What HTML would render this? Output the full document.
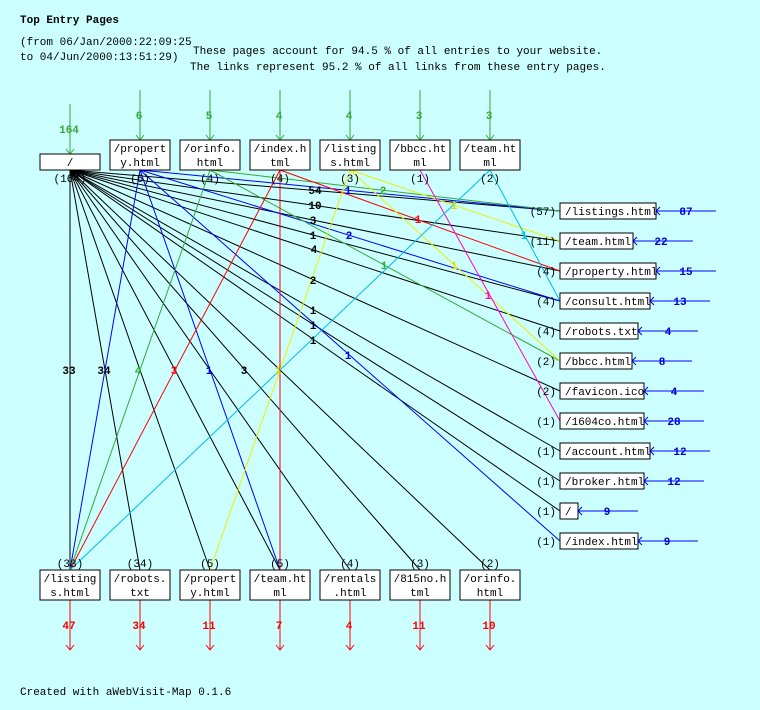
<!DOCTYPE html>
<html><head><style>
body{margin:0;background:#ccffff;}
svg{display:block;font-family:"Liberation Mono","DejaVu Sans Mono",monospace;}
.t{font-size:11px;fill:#000}
.b{font-size:11px;font-weight:bold}
</style></head><body>
<svg width="760" height="710" xmlns="http://www.w3.org/2000/svg">
<rect width="760" height="710" fill="#ccffff"/>
<text x="20" y="23" class="b" fill="#000">Top Entry Pages</text>
<text x="20" y="45" class="t">(from 06/Jan/2000:22:09:25</text>
<text x="20" y="60" class="t">to 04/Jun/2000:13:51:29)</text>
<text x="193" y="54" class="t">These pages account for 94.5 % of all entries to your website.</text>
<text x="190" y="70" class="t">The links represent 95.2 % of all links from these entry pages.</text>
<text x="20" y="695" class="t">Created with aWebVisit-Map 0.1.6</text>

<g stroke-width="1" fill="none">
<!-- black lines from / -->
<g stroke="#000">
<line x1="70" y1="170" x2="560" y2="211"/><line x1="70" y1="170" x2="560" y2="241"/>
<line x1="70" y1="170" x2="560" y2="271"/><line x1="70" y1="170" x2="560" y2="301"/>
<line x1="70" y1="170" x2="560" y2="331"/><line x1="70" y1="170" x2="560" y2="391"/>
<line x1="70" y1="170" x2="560" y2="451"/><line x1="70" y1="170" x2="560" y2="481"/>
<line x1="70" y1="170" x2="560" y2="511"/>
<line x1="70" y1="170" x2="70" y2="570"/><line x1="70" y1="170" x2="140" y2="570"/>
<line x1="70" y1="170" x2="210" y2="570"/><line x1="70" y1="170" x2="280" y2="570"/>
<line x1="70" y1="170" x2="350" y2="570"/><line x1="70" y1="170" x2="420" y2="570"/>
<line x1="70" y1="170" x2="490" y2="570"/>
</g>
<g stroke="#0000ff">
<line x1="140" y1="170" x2="70" y2="570"/><line x1="140" y1="170" x2="280" y2="570"/>
<line x1="140" y1="170" x2="560" y2="211"/><line x1="140" y1="170" x2="560" y2="301"/>
<line x1="140" y1="170" x2="560" y2="541"/>
</g>
<g stroke="#33aa33">
<line x1="210" y1="170" x2="70" y2="570"/><line x1="210" y1="170" x2="560" y2="211"/>
<line x1="210" y1="170" x2="560" y2="361"/>
</g>
<g stroke="#ff0000">
<line x1="280" y1="170" x2="70" y2="570"/><line x1="280" y1="170" x2="280" y2="570"/>
<line x1="280" y1="170" x2="560" y2="271"/>
</g>
<g stroke="#eeee00">
<line x1="350" y1="170" x2="210" y2="570"/><line x1="350" y1="170" x2="560" y2="241"/>
<line x1="350" y1="170" x2="560" y2="361"/>
</g>
<line x1="420" y1="170" x2="560" y2="421" stroke="#ff00cc"/>
<g stroke="#00bbee">
<line x1="490" y1="170" x2="70" y2="570"/><line x1="490" y1="170" x2="560" y2="301"/>
</g>
<!-- green in arrows -->
<g stroke="#33aa33">
<line x1="70" y1="104" x2="70" y2="154"/><polyline points="66,149 70,154 74,149"/>
<line x1="140" y1="90" x2="140" y2="140"/><polyline points="136,135 140,140 144,135"/>
<line x1="210" y1="90" x2="210" y2="140"/><polyline points="206,135 210,140 214,135"/>
<line x1="280" y1="90" x2="280" y2="140"/><polyline points="276,135 280,140 284,135"/>
<line x1="350" y1="90" x2="350" y2="140"/><polyline points="346,135 350,140 354,135"/>
<line x1="420" y1="90" x2="420" y2="140"/><polyline points="416,135 420,140 424,135"/>
<line x1="490" y1="90" x2="490" y2="140"/><polyline points="486,135 490,140 494,135"/>
</g>
<!-- red out arrows -->
<g stroke="#ff0000">
<line x1="70" y1="600" x2="70" y2="650"/><polyline points="66,645 70,650 74,645"/>
<line x1="140" y1="600" x2="140" y2="650"/><polyline points="136,645 140,650 144,645"/>
<line x1="210" y1="600" x2="210" y2="650"/><polyline points="206,645 210,650 214,645"/>
<line x1="280" y1="600" x2="280" y2="650"/><polyline points="276,645 280,650 284,645"/>
<line x1="350" y1="600" x2="350" y2="650"/><polyline points="346,645 350,650 354,645"/>
<line x1="420" y1="600" x2="420" y2="650"/><polyline points="416,645 420,650 424,645"/>
<line x1="490" y1="600" x2="490" y2="650"/><polyline points="486,645 490,650 494,645"/>
</g>
<!-- blue side arrows -->
<g stroke="#0000ff">
<line x1="656" y1="211" x2="716" y2="211"/><polyline points="660,207 656,211 660,215 M712,207 716,211 712,215"/>
<line x1="633" y1="241" x2="693" y2="241"/><polyline points="637,237 633,241 637,245 M689,237 693,241 689,245"/>
<line x1="656" y1="271" x2="716" y2="271"/><polyline points="660,267 656,271 660,275 M712,267 716,271 712,275"/>
<line x1="650" y1="301" x2="710" y2="301"/><polyline points="654,297 650,301 654,305 M706,297 710,301 706,305"/>
<line x1="638" y1="331" x2="698" y2="331"/><polyline points="642,327 638,331 642,335 M694,327 698,331 694,335"/>
<line x1="632" y1="361" x2="692" y2="361"/><polyline points="636,357 632,361 636,365 M688,357 692,361 688,365"/>
<line x1="644" y1="391" x2="704" y2="391"/><polyline points="648,387 644,391 648,395 M700,387 704,391 700,395"/>
<line x1="644" y1="421" x2="704" y2="421"/><polyline points="648,417 644,421 648,425 M700,417 704,421 700,425"/>
<line x1="650" y1="451" x2="710" y2="451"/><polyline points="654,447 650,451 654,455 M706,447 710,451 706,455"/>
<line x1="644" y1="481" x2="704" y2="481"/><polyline points="648,477 644,481 648,485 M700,477 704,481 700,485"/>
<line x1="578" y1="511" x2="638" y2="511"/><polyline points="582,507 578,511 582,515 M634,507 638,511 634,515"/>
<line x1="638" y1="541" x2="698" y2="541"/><polyline points="642,537 638,541 642,545 M694,537 698,541 694,545"/>
</g>
</g>

<!-- boxes -->
<g fill="#fff" stroke="#000">
<rect x="40" y="154" width="60" height="16"/>
<rect x="110" y="140" width="60" height="30"/><rect x="180" y="140" width="60" height="30"/>
<rect x="250" y="140" width="60" height="30"/><rect x="320" y="140" width="60" height="30"/>
<rect x="390" y="140" width="60" height="30"/><rect x="460" y="140" width="60" height="30"/>
<rect x="40" y="570" width="60" height="30"/><rect x="110" y="570" width="60" height="30"/>
<rect x="180" y="570" width="60" height="30"/><rect x="250" y="570" width="60" height="30"/>
<rect x="320" y="570" width="60" height="30"/><rect x="390" y="570" width="60" height="30"/>
<rect x="460" y="570" width="60" height="30"/>
<rect x="560" y="203" width="96" height="16"/><rect x="560" y="233" width="73" height="16"/>
<rect x="560" y="263" width="96" height="16"/><rect x="560" y="293" width="90" height="16"/>
<rect x="560" y="323" width="78" height="16"/><rect x="560" y="353" width="72" height="16"/>
<rect x="560" y="383" width="84" height="16"/><rect x="560" y="413" width="84" height="16"/>
<rect x="560" y="443" width="90" height="16"/><rect x="560" y="473" width="84" height="16"/>
<rect x="560" y="503" width="18" height="16"/><rect x="560" y="533" width="78" height="16"/>
</g>
<g class="t" text-anchor="middle">
<text x="70" y="166">/</text>
<text x="140" y="152">/propert</text><text x="140" y="166">y.html</text>
<text x="210" y="152">/orinfo.</text><text x="210" y="166">html</text>
<text x="280" y="152">/index.h</text><text x="280" y="166">tml</text>
<text x="350" y="152">/listing</text><text x="350" y="166">s.html</text>
<text x="420" y="152">/bbcc.ht</text><text x="420" y="166">ml</text>
<text x="490" y="152">/team.ht</text><text x="490" y="166">ml</text>
<text x="70" y="182">(164)</text><text x="140" y="182">(6)</text><text x="210" y="182">(4)</text>
<text x="280" y="182">(4)</text><text x="350" y="182">(3)</text><text x="420" y="182">(1)</text><text x="490" y="182">(2)</text>
<text x="70" y="582">/listing</text><text x="70" y="596">s.html</text>
<text x="140" y="582">/robots.</text><text x="140" y="596">txt</text>
<text x="210" y="582">/propert</text><text x="210" y="596">y.html</text>
<text x="280" y="582">/team.ht</text><text x="280" y="596">ml</text>
<text x="350" y="582">/rentals</text><text x="350" y="596">.html</text>
<text x="420" y="582">/815no.h</text><text x="420" y="596">tml</text>
<text x="490" y="582">/orinfo.</text><text x="490" y="596">html</text>
<text x="70" y="567">(33)</text><text x="140" y="567">(34)</text><text x="210" y="567">(5)</text>
<text x="280" y="567">(5)</text><text x="350" y="567">(4)</text><text x="420" y="567">(3)</text><text x="490" y="567">(2)</text>
</g>
<g class="t">
<text x="565" y="215">/listings.html</text><text x="565" y="245">/team.html</text>
<text x="565" y="275">/property.html</text><text x="565" y="305">/consult.html</text>
<text x="565" y="335">/robots.txt</text><text x="565" y="365">/bbcc.html</text>
<text x="565" y="395">/favicon.ico</text><text x="565" y="425">/1604co.html</text>
<text x="565" y="455">/account.html</text><text x="565" y="485">/broker.html</text>
<text x="565" y="515">/</text><text x="565" y="545">/index.html</text>
</g>
<g class="t" text-anchor="end">
<text x="556" y="215">(57)</text><text x="556" y="245">(11)</text><text x="556" y="275">(4)</text>
<text x="556" y="305">(4)</text><text x="556" y="335">(4)</text><text x="556" y="365">(2)</text>
<text x="556" y="395">(2)</text><text x="556" y="425">(1)</text><text x="556" y="455">(1)</text>
<text x="556" y="485">(1)</text><text x="556" y="515">(1)</text><text x="556" y="545">(1)</text>
</g>
<g class="b" fill="#0000dd" text-anchor="middle">
<text x="686" y="215">87</text><text x="661" y="245">22</text><text x="686" y="275">15</text>
<text x="680" y="305">13</text><text x="668" y="335">4</text><text x="662" y="365">8</text>
<text x="674" y="395">4</text><text x="674" y="425">28</text><text x="680" y="455">12</text>
<text x="674" y="485">12</text><text x="607" y="515">9</text><text x="667" y="545">9</text>
</g>
<g class="b" fill="#33aa33" text-anchor="middle">
<text x="69" y="133">164</text><text x="139" y="119">6</text><text x="209" y="119">5</text>
<text x="279" y="119">4</text><text x="349" y="119">4</text><text x="419" y="119">3</text><text x="489" y="119">3</text>
<text x="383" y="194">2</text><text x="384" y="269">1</text><text x="138" y="374">4</text>
</g>
<g class="b" fill="#ff0000" text-anchor="middle">
<text x="69" y="629">47</text><text x="139" y="629">34</text><text x="209" y="629">11</text>
<text x="279" y="629">7</text><text x="349" y="629">4</text><text x="419" y="629">11</text><text x="489" y="629">10</text>
<text x="418" y="223">1</text><text x="174" y="374">3</text>
</g>
<g class="b" fill="#000" text-anchor="middle">
<text x="315" y="194">54</text><text x="315" y="209">10</text><text x="313" y="224">3</text>
<text x="313" y="239">1</text><text x="314" y="253">4</text><text x="313" y="284">2</text>
<text x="313" y="314">1</text><text x="313" y="329">1</text><text x="313" y="344">1</text>
<text x="69" y="374">33</text><text x="104" y="374">34</text><text x="244" y="374">3</text>
</g>
<g class="b" fill="#0000dd" text-anchor="middle">
<text x="348" y="194">1</text><text x="349" y="239">2</text><text x="348" y="359">1</text><text x="209" y="374">1</text>
</g>
<g class="b" fill="#dddd00" text-anchor="middle">
<text x="454" y="209">1</text><text x="454" y="269">1</text><text x="278" y="374">1</text>
</g>
<text x="488" y="299" class="b" fill="#ff00cc" text-anchor="middle">1</text>
<text x="524" y="239" class="b" fill="#00bbee" text-anchor="middle">1</text>
</svg>
</body></html>
